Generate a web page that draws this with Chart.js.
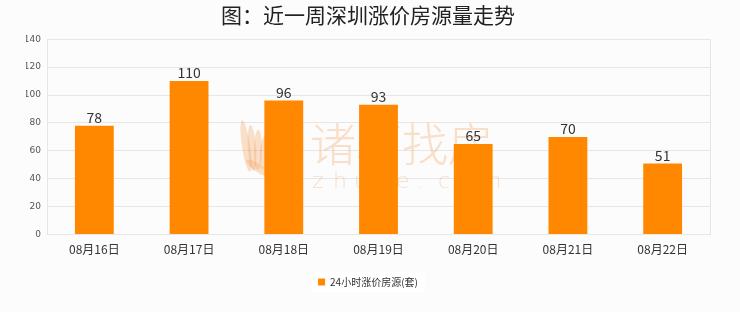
<!DOCTYPE html>
<html>
<head>
<meta charset="utf-8">
<script src="https://cdn.jsdelivr.net/npm/chart.js@4.4.1/dist/chart.umd.min.js"></script>
<style>
  html, body { margin: 0; padding: 0; background: #fcfcfc; }
  #wrap { width: 740px; height: 312px; position: relative; }
</style>
</head>
<body>
<div id="wrap"><canvas id="c" width="740" height="312"></canvas></div>
<script>
// 近一周深圳每日涨价房源数量
const categories = ['08月16日', '08月17日', '08月18日', '08月19日', '08月20日', '08月21日', '08月22日'];
const seriesName = '24小时涨价房源(套)';
const values = [78, 110, 96, 93, 65, 70, 51];
const yTicks = [0, 20, 40, 60, 80, 100, 120, 140];

const CJK = '"Noto Sans CJK SC", "Noto Sans", sans-serif';
const GRID = '#e6e6e6';

// 背景水印：羽毛标志 + 文字
const watermark = {
  id: 'watermark',
  beforeDatasetsDraw(chart) {
    const ctx = chart.ctx;
    ctx.save();
    ctx.fillStyle = 'rgba(243, 160, 90, 0.32)';
    const cx = 256, cy = 150;
    for (let i = 0; i < 4; i++) {
      ctx.beginPath();
      ctx.ellipse(cx - 10 + i * 6, cy - 4 + i * 2, 4, 26 - i * 3, -0.15 + i * 0.08, 0, Math.PI * 2);
      ctx.fill();
    }
    ctx.beginPath();
    ctx.ellipse(cx + 2, cy + 18, 14, 4, 0.6, 0, Math.PI * 2);
    ctx.fill();
    ctx.font = '300 46px ' + CJK;
    ctx.textBaseline = 'middle';
    ctx.textAlign = 'left';
    ctx.fillText('诸葛找房', 310, 144);
    ctx.font = '300 22px "DejaVu Sans", sans-serif';
    let x = 312;
    for (const ch of 'zhuge.com') {
      ctx.fillText(ch, x, 182);
      x += 21;
    }
    ctx.restore();
  }
};

// 绘图区右侧边框 + 柱顶数值
const extras = {
  id: 'extras',
  afterDatasetsDraw(chart) {
    const ctx = chart.ctx;
    const a = chart.chartArea;
    ctx.save();
    ctx.strokeStyle = GRID;
    ctx.lineWidth = 1;
    ctx.beginPath();
    ctx.moveTo(Math.round(a.right) + 0.5, a.top);
    ctx.lineTo(Math.round(a.right) + 0.5, a.bottom);
    ctx.stroke();

    const meta = chart.getDatasetMeta(0);
    ctx.fillStyle = '#333';
    ctx.font = '14px ' + CJK;
    ctx.textAlign = 'center';
    ctx.textBaseline = 'bottom';
    meta.data.forEach((bar, i) => {
      ctx.fillText(String(values[i]), bar.x, bar.y - 1);
    });
    ctx.restore();
  }
};

// 图例白色底框
const legendBg = {
  id: 'legendBg',
  beforeDraw(chart) {
    const lg = chart.legend;
    if (!lg || !lg.legendHitBoxes || !lg.legendHitBoxes.length) return;
    const h = lg.legendHitBoxes[0];
    const ctx = chart.ctx;
    ctx.save();
    ctx.fillStyle = '#ffffff';
    ctx.fillRect(h.left - 7, h.top - 5, h.width + 14, h.height + 10);
    ctx.restore();
  }
};

new Chart(document.getElementById('c'), {
  type: 'bar',
  data: {
    labels: categories,
    datasets: [{
      label: seriesName,
      data: values,
      backgroundColor: '#ff8800',
      borderWidth: 0,
      barPercentage: 0.41,
      categoryPercentage: 1
    }]
  },
  options: {
    responsive: false,
    animation: false,
    layout: { padding: { left: 26, right: 30, top: 0, bottom: 15 } },
    plugins: {
      title: {
        display: true,
        text: '图：近一周深圳涨价房源量走势',
        color: '#222',
        font: { family: CJK, size: 21, weight: 'normal' },
        padding: { top: 2, bottom: 12 }
      },
      legend: {
        position: 'bottom',
        labels: {
          boxWidth: 7,
          boxHeight: 7,
          color: '#333',
          font: { family: CJK, size: 10 },
          padding: 6
        }
      },
      tooltip: { enabled: false }
    },
    scales: {
      x: {
        grid: { display: false },
        border: { display: true, color: GRID },
        afterFit(axis) { axis.height += 14; },
        ticks: { color: '#333', font: { family: CJK, size: 12 }, padding: 0 }
      },
      y: {
        min: 0,
        max: 140,
        afterBuildTicks(axis) { axis.ticks = yTicks.map(v => ({ value: v })); },
        afterFit(axis) { axis.width = 21; },
        grid: { color: GRID, drawTicks: false },
        border: { display: true, color: GRID },
        ticks: { color: '#555', font: { family: '"DejaVu Sans", sans-serif', size: 9 }, padding: 6 }
      }
    }
  },
  plugins: [watermark, extras, legendBg]
});
</script>
</body>
</html>
